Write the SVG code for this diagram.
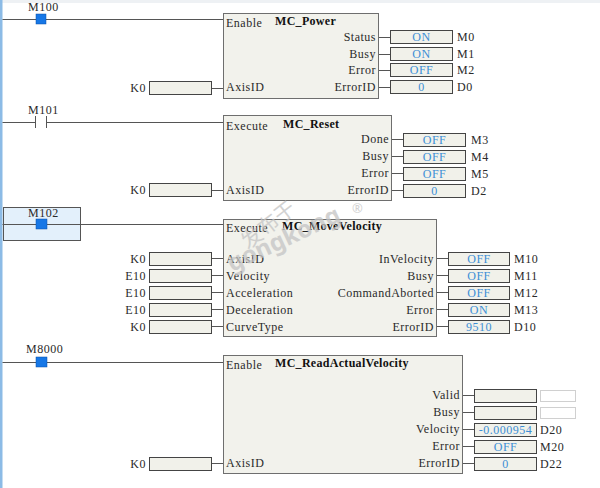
<svg xmlns="http://www.w3.org/2000/svg" width="600" height="488" viewBox="0 0 600 488">
<style>
.t{font-family:"Liberation Serif","DejaVu Serif",serif;font-size:12px;letter-spacing:0.5px;fill:#2a2a2a}
.r{text-anchor:end}
.b{font-weight:bold;letter-spacing:0.3px;fill:#111}
.v{font-family:"Liberation Serif","DejaVu Serif",serif;font-size:12px;letter-spacing:0.5px;fill:#3d8fd6;text-anchor:middle}
.blk{fill:#f2f2ec;stroke:#6e6e6e;stroke-width:1}
.box{fill:#f1f1ea;stroke:#444;stroke-width:1}
.ebox{fill:#fff;stroke:#d0d0d0;stroke-width:1}
.w{stroke:#555;stroke-width:1;fill:none}
.c{fill:#1677e6;stroke:#0b4fa8;stroke-width:0.5}
.wm{font-family:"Noto Sans","Noto Sans CJK SC",sans-serif;fill:#c4c4c4;opacity:0.75}
</style>
<rect x="0" y="0" width="600" height="488" fill="#fff"/>
<rect x="0" y="0" width="600" height="3" fill="#eef1f4"/>
<rect x="0" y="0" width="2.5" height="488" fill="#8cbbe6"/>

<g id="connectors">
<path class="w" d="M2.5 19.5H36M46 19.5H223"/>
<path class="w" d="M212 88.5H223"/>
<path class="w" d="M379 37.5H390M379 54.5H390M379 70.5H390M379 87.5H390"/>
<path class="w" d="M2.5 122.5H35.5M46.5 122.5H223"/>
<path class="w" d="M35.5 116V128M46.5 116V128"/>
<path class="w" d="M212 190.5H223"/>
<path class="w" d="M392 139.5H403M392 156.5H403M392 173.5H403M392 190.5H403"/>
<path class="w" d="M2.5 224.5H223"/>
<path class="w" d="M212 258.5H223M212 275.5H223M212 292.5H223M212 309.5H223M212 326.5H223"/>
<path class="w" d="M437 258.5H448M437 275.5H448M437 292.5H448M437 309.5H448M437 326.5H448"/>
<path class="w" d="M2.5 362.5H36M47 362.5H223"/>
<path class="w" d="M212 463.5H223"/>
<path class="w" d="M463 395.5H474M463 412.5H474M463 429.5H474M463 446.5H474M463 463.5H474"/>
</g>

<g id="contact-M100">
<text class="t" x="28" y="11">M100</text>
<rect class="c" x="36" y="14" width="10" height="10"/>
</g>
<g id="input-K0-1"><text class="t r" x="146" y="92">K0</text><rect class="box" x="149.5" y="81.5" width="62" height="13"/></g>
<g id="MC_Power">
<rect class="blk" x="223.5" y="13.5" width="155" height="85"/>
<text class="t" x="226" y="27">Enable</text>
<text class="t b" x="275" y="25">MC_Power</text>
<text class="t r" x="376" y="41">Status</text>
<text class="t r" x="376" y="58">Busy</text>
<text class="t r" x="376" y="74">Error</text>
<text class="t r" x="376" y="91">ErrorID</text>
<text class="t" x="226" y="91">AxisID</text>
</g>
<g id="out-power">
<rect class="box" x="390.5" y="30.5" width="62" height="13"/><text class="v" x="421.5" y="41">ON</text><text class="t" x="457" y="41">M0</text>
<rect class="box" x="390.5" y="47.5" width="62" height="13"/><text class="v" x="421.5" y="58">ON</text><text class="t" x="457" y="58">M1</text>
<rect class="box" x="390.5" y="63.5" width="62" height="13"/><text class="v" x="421.5" y="74">OFF</text><text class="t" x="457" y="74">M2</text>
<rect class="box" x="390.5" y="80.5" width="62" height="13"/><text class="v" x="421.5" y="91">0</text><text class="t" x="457" y="91">D0</text>
</g>

<g id="contact-M101"><text class="t" x="28" y="114">M101</text></g>
<g id="input-K0-2"><text class="t r" x="146" y="194">K0</text><rect class="box" x="149.5" y="183.5" width="62" height="13"/></g>
<g id="MC_Reset">
<rect class="blk" x="223.5" y="115.5" width="168" height="85"/>
<text class="t" x="226" y="130">Execute</text>
<text class="t b" x="283" y="128">MC_Reset</text>
<text class="t r" x="389" y="143">Done</text>
<text class="t r" x="389" y="160">Busy</text>
<text class="t r" x="389" y="177">Error</text>
<text class="t r" x="389" y="194">ErrorID</text>
<text class="t" x="226" y="194">AxisID</text>
</g>
<g id="out-reset">
<rect class="box" x="403.5" y="133.5" width="62" height="13"/><text class="v" x="434.5" y="144">OFF</text><text class="t" x="471" y="144">M3</text>
<rect class="box" x="403.5" y="150.5" width="62" height="13"/><text class="v" x="434.5" y="161">OFF</text><text class="t" x="471" y="161">M4</text>
<rect class="box" x="403.5" y="167.5" width="62" height="13"/><text class="v" x="434.5" y="178">OFF</text><text class="t" x="471" y="178">M5</text>
<rect class="box" x="403.5" y="184.5" width="62" height="13"/><text class="v" x="434.5" y="195">0</text><text class="t" x="471" y="195">D2</text>
</g>

<g id="contact-M102">
<rect x="3.5" y="207.5" width="77" height="33" fill="#e3f0fb" stroke="#555"/>
<path class="w" d="M3.5 224.5H80.5"/>
<text class="t" x="28" y="217">M102</text>
<rect class="c" x="36" y="219" width="11" height="10"/>
</g>
<g id="inputs-move">
<text class="t r" x="146" y="263">K0</text><rect class="box" x="149.5" y="252.5" width="62" height="13"/>
<text class="t r" x="146" y="280">E10</text><rect class="box" x="149.5" y="269.5" width="62" height="13"/>
<text class="t r" x="146" y="297">E10</text><rect class="box" x="149.5" y="286.5" width="62" height="13"/>
<text class="t r" x="146" y="314">E10</text><rect class="box" x="149.5" y="303.5" width="62" height="13"/>
<text class="t r" x="146" y="331">K0</text><rect class="box" x="149.5" y="320.5" width="62" height="13"/>
</g>
<g id="MC_MoveVelocity">
<rect class="blk" x="223.5" y="219.5" width="213" height="117"/>
<text class="t" x="226" y="232">Execute</text>
<text class="t b" x="282" y="230">MC_MoveVelocity</text>
<text class="t" x="226" y="263">AxisID</text>
<text class="t" x="226" y="280">Velocity</text>
<text class="t" x="226" y="297">Acceleration</text>
<text class="t" x="226" y="314">Deceleration</text>
<text class="t" x="226" y="331">CurveType</text>
<text class="t r" x="434" y="263">InVelocity</text>
<text class="t r" x="434" y="280">Busy</text>
<text class="t r" x="434" y="297">CommandAborted</text>
<text class="t r" x="434" y="314">Error</text>
<text class="t r" x="434" y="331">ErrorID</text>
</g>
<g id="watermark">
<text class="wm" x="0" y="0" font-size="21" transform="translate(248 250) rotate(-38)">发布于</text>
<text class="wm" x="0" y="0" font-size="24" font-weight="bold" transform="translate(232 272) rotate(-25)">gongkong</text>
<text class="wm" x="352" y="213" font-size="13">®</text>
</g>
<g id="out-move">
<rect class="box" x="448.5" y="252.5" width="61" height="13"/><text class="v" x="479" y="263">OFF</text><text class="t" x="514" y="263">M10</text>
<rect class="box" x="448.5" y="269.5" width="61" height="13"/><text class="v" x="479" y="280">OFF</text><text class="t" x="514" y="280">M11</text>
<rect class="box" x="448.5" y="286.5" width="61" height="13"/><text class="v" x="479" y="297">OFF</text><text class="t" x="514" y="297">M12</text>
<rect class="box" x="448.5" y="303.5" width="61" height="13"/><text class="v" x="479" y="314">ON</text><text class="t" x="514" y="314">M13</text>
<rect class="box" x="448.5" y="320.5" width="61" height="13"/><text class="v" x="479" y="331">9510</text><text class="t" x="514" y="331">D10</text>
</g>

<g id="contact-M8000">
<text class="t" x="26" y="353">M8000</text>
<rect class="c" x="36" y="357" width="11" height="10"/>
</g>
<g id="input-K0-4"><text class="t r" x="146" y="468">K0</text><rect class="box" x="149.5" y="457.5" width="62" height="13"/></g>
<g id="MC_ReadActualVelocity">
<rect class="blk" x="223.5" y="355.5" width="239" height="118"/>
<text class="t" x="226" y="369">Enable</text>
<text class="t b" x="275" y="367">MC_ReadActualVelocity</text>
<text class="t r" x="460" y="399">Valid</text>
<text class="t r" x="460" y="416">Busy</text>
<text class="t r" x="460" y="433">Velocity</text>
<text class="t r" x="460" y="450">Error</text>
<text class="t r" x="460" y="467">ErrorID</text>
<text class="t" x="226" y="467">AxisID</text>
</g>
<g id="out-read">
<rect class="box" x="474.5" y="389.5" width="62" height="13"/><rect class="ebox" x="540.5" y="390.5" width="35" height="11"/>
<rect class="box" x="474.5" y="406.5" width="62" height="13"/><rect class="ebox" x="540.5" y="407.5" width="35" height="11"/>
<rect class="box" x="474.5" y="423.5" width="62" height="13"/><text class="v" x="505.5" y="434">-0.000954</text><text class="t" x="540" y="434">D20</text>
<rect class="box" x="474.5" y="440.5" width="62" height="13"/><text class="v" x="505.5" y="451">OFF</text><text class="t" x="540" y="451">M20</text>
<rect class="box" x="474.5" y="457.5" width="62" height="13"/><text class="v" x="505.5" y="468">0</text><text class="t" x="540" y="468">D22</text>
</g>
</svg>
